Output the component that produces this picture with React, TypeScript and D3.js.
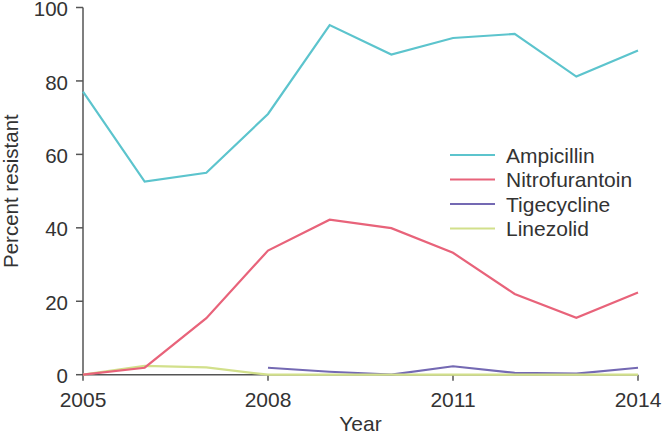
import React from "react";
import * as d3 from "d3";

const years = [2005, 2006, 2007, 2008, 2009, 2010, 2011, 2012, 2013, 2014];
const ampicillin = [77.1, 52.6, 55.0, 71.0, 95.2, 87.2, 91.7, 92.8, 81.2, 88.3];
const nitrofurantoin = [0, 1.9, 15.4, 33.8, 42.2, 39.9, 33.2, 22.0, 15.5, 22.4];
const tigecycline = [null, null, null, 1.9, 0.8, 0, 2.3, 0.5, 0.3, 1.9];
const linezolid = [0, 2.4, 2.0, 0, 0, 0, 0, 0, 0, 0];
const seriesNames = ["Ampicillin", "Nitrofurantoin", "Tigecycline", "Linezolid"];
const seriesColors = ["#5cc4cd", "#e8637a", "#7469b3", "#d2e08b"];
const yTicks = [0, 20, 40, 60, 80, 100];
const xTicks = [2005, 2008, 2011, 2014];

export default function App() {
  const W = 664, H = 442;
  const x = d3.scaleLinear().domain([2005, 2014]).range([83, 638]);
  const y = d3.scaleLinear().domain([0, 100]).range([374.7, 7.5]);
  const all = [ampicillin, nitrofurantoin, tigecycline, linezolid];
  const line = d3
    .line<[number, number | null]>()
    .defined((d) => d[1] != null)
    .x((d) => x(d[0]))
    .y((d) => y(d[1] as number));
  const font = "'Liberation Sans', Arial, sans-serif";
  const textColor = "#333";
  const axisColor = "#555";
  const order = [2, 3, 1, 0];
  return (
    <svg
      width={W}
      height={H}
      style={{ position: "absolute", left: 0, top: 0, background: "#fff" }}
      fontFamily={font}
    >
      <line x1={x(2005)} x2={x(2005)} y1={y(100)} y2={y(0)} stroke={axisColor} strokeWidth={1.5} />
      <line x1={x(2005)} x2={x(2014)} y1={y(0)} y2={y(0)} stroke={axisColor} strokeWidth={1.5} />
      {yTicks.map((t) => (
        <g key={"y" + t}>
          <line x1={x(2005) - 7} x2={x(2005)} y1={y(t)} y2={y(t)} stroke={axisColor} strokeWidth={1.5} />
          <text x={x(2005) - 15} y={y(t)} dy="0.42em" textAnchor="end" fontSize={20.5} fill={textColor}>
            {t}
          </text>
        </g>
      ))}
      {xTicks.map((t) => (
        <g key={"x" + t}>
          <line x1={x(t)} x2={x(t)} y1={y(0)} y2={y(0) + 6} stroke={axisColor} strokeWidth={1.5} />
          <text x={x(t)} y={407} textAnchor="middle" fontSize={21} fill={textColor}>
            {t}
          </text>
        </g>
      ))}
      <text x={(x(2005) + x(2014)) / 2} y={431} textAnchor="middle" fontSize={21} fill={textColor}>
        Year
      </text>
      <text
        transform={`translate(18,${(y(0) + y(100)) / 2}) rotate(-90)`}
        textAnchor="middle"
        fontSize={20.5}
        fill={textColor}
      >
        Percent resistant
      </text>
      {order.map((i) => (
        <path
          key={seriesNames[i]}
          d={line(years.map((yr, j) => [yr, all[i][j]] as [number, number | null])) || ""}
          fill="none"
          stroke={seriesColors[i]}
          strokeWidth={2.2}
          strokeLinejoin="miter"
        />
      ))}
      {seriesNames.map((n, i) => (
        <g key={"lg" + n} transform={`translate(450,${155 + i * 24.5})`}>
          <line x1={0} x2={45} y1={0} y2={0} stroke={seriesColors[i]} strokeWidth={2} />
          <text x={56} y={0} dy="0.36em" fontSize={21} fill={textColor}>
            {n}
          </text>
        </g>
      ))}
    </svg>
  );
}
